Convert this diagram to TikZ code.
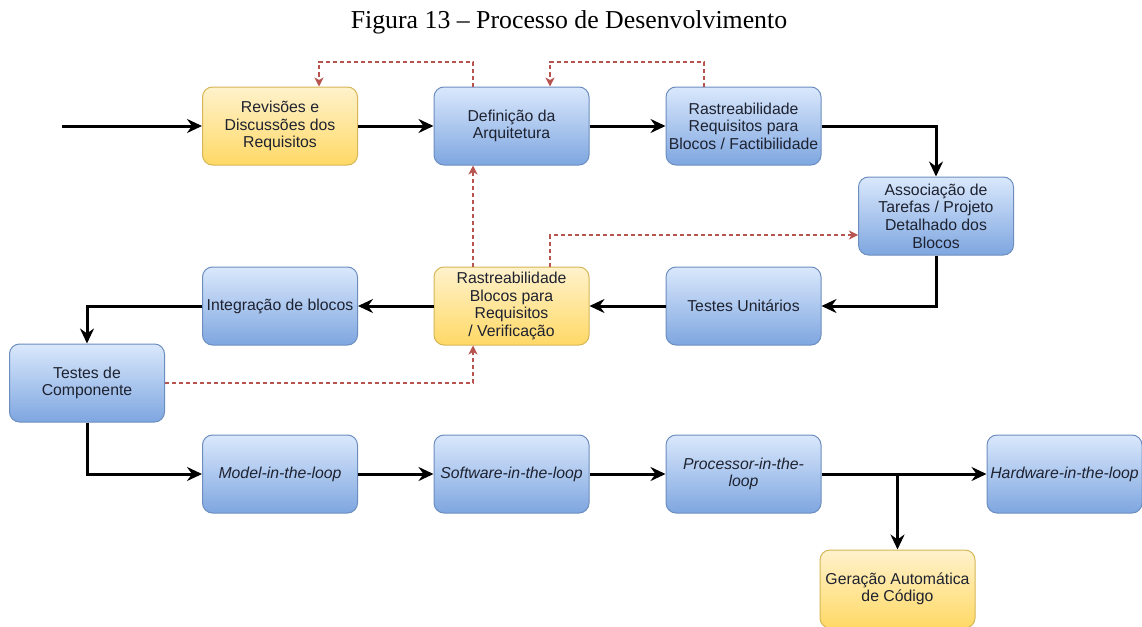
\documentclass[tikz,border=0pt]{standalone}
\usepackage{fontspec}
\setmainfont{Liberation Serif}
\newfontfamily\boxfont{Liberation Sans}
\usetikzlibrary{arrows.meta}

\definecolor{bluetop}{HTML}{DAE8FC}
\definecolor{bluebot}{HTML}{7EA6E0}
\definecolor{blueline}{HTML}{6C8EBF}
\definecolor{yeltop}{HTML}{FFF2CC}
\definecolor{yelbot}{HTML}{FFD966}
\definecolor{yelline}{HTML}{D6B656}
\definecolor{fbred}{HTML}{B85450}
\definecolor{boxtext}{HTML}{1E2230}

\tikzset{
  stage/.style={rounded corners=10pt, minimum width=155pt, minimum height=78pt,
    inner sep=0pt, align=center, line width=1pt, text=boxtext,
    font=\boxfont\fontsize{15.8pt}{17.6pt}\selectfont},
  bluebox/.style={stage, draw=blueline, top color=bluetop, bottom color=bluebot},
  yelbox/.style={stage, draw=yelline, top color=yeltop, bottom color=yelbot},
  flow/.style={line width=3pt, black,
    -{Stealth[length=15pt, width=14pt, inset=5pt]}},
  feedback/.style={line width=1.3pt, fbred, dash pattern=on 4pt off 3pt,
    -{Stealth[length=9pt, width=9pt, inset=2.5pt]}}
}

\begin{document}
\begin{tikzpicture}[x=1pt, y=-1pt]
  \useasboundingbox (0,0) rectangle (1142,626);
  \fill[white] (0,0) rectangle (1142,626);

  % title
  \node[anchor=base, font=\fontsize{25.8pt}{30pt}\selectfont] (title) at (569,29)
    {Figura 13 – Processo de Desenvolvimento};

  % first row
  \node[yelbox]  (rev)  at (280,126)   {Revisões e\\Discussões dos\\Requisitos};
  \node[bluebox] (arq)  at (511.5,126) {Definição da\\Arquitetura};
  \node[bluebox] (rrb)  at (743.5,126) {Rastreabilidade\\Requisitos para\\Blocos / Factibilidade};
  \node[bluebox] (asso) at (936,216)   {Associação de\\Tarefas / Projeto\\Detalhado dos\\Blocos};

  % second row
  \node[bluebox] (tu)    at (743.5,306) {Testes Unitários};
  \node[yelbox]  (rbr)   at (511.5,306) {Rastreabilidade\\Blocos para\\Requisitos\\/ Verificação};
  \node[bluebox] (integ) at (280,306)   {Integração de blocos};
  \node[bluebox] (tc)    at (87,383)    {Testes de\\Componente};

  % in-the-loop row
  \node[bluebox] (mil) at (280,474)    {\itshape Model-in-the-loop};
  \node[bluebox] (sil) at (511.5,474)  {\itshape Software-in-the-loop};
  \node[bluebox] (pil) at (743.5,474)  {\itshape Processor-in-the-\\\itshape loop};
  \node[bluebox] (hil) at (1064.5,474) {\itshape Hardware-in-the-loop};
  \node[yelbox]  (gac) at (897.5,589)  {Geração Automática\\de Código};

  % main flow
  \coordinate (start) at (62,126);
  \draw[flow] (start) -- (rev.west);
  \draw[flow] (rev.east) -- (arq.west);
  \draw[flow] (arq.east) -- (rrb.west);
  \draw[flow] (rrb.east) -| (asso.north);
  \draw[flow] (asso.south) |- (tu.east);
  \draw[flow] (tu.west) -- (rbr.east);
  \draw[flow] (rbr.west) -- (integ.east);
  \draw[flow] (integ.west) -| (tc.north);
  \draw[flow] (tc.south) |- (mil.west);
  \draw[flow] (mil.east) -- (sil.west);
  \draw[flow] (sil.east) -- (pil.west);
  \draw[flow] (pil.east) -- (hil.west);
  \coordinate (split) at (gac.north |- pil.east);
  \draw[flow] (split) -- (gac.north);

  % feedback loops
  \coordinate (topline) at (0,62);
  \draw[feedback] ([xshift=-38.5pt]arq.north) |- ([xshift=39pt]rev.north |- topline)
    -- ([xshift=39pt]rev.north);
  \draw[feedback] ([xshift=-39.5pt]rrb.north) |- ([xshift=38.5pt]arq.north |- topline)
    -- ([xshift=38.5pt]arq.north);
  \draw[feedback] ([xshift=-38.5pt]rbr.north) -- ([xshift=-38.5pt]arq.south);
  \draw[feedback] ([xshift=38.5pt]rbr.north) |- ([yshift=-19pt]asso.west);
  \draw[feedback] (tc.east) -| ([xshift=-38.5pt]rbr.south);
\end{tikzpicture}
\end{document}
